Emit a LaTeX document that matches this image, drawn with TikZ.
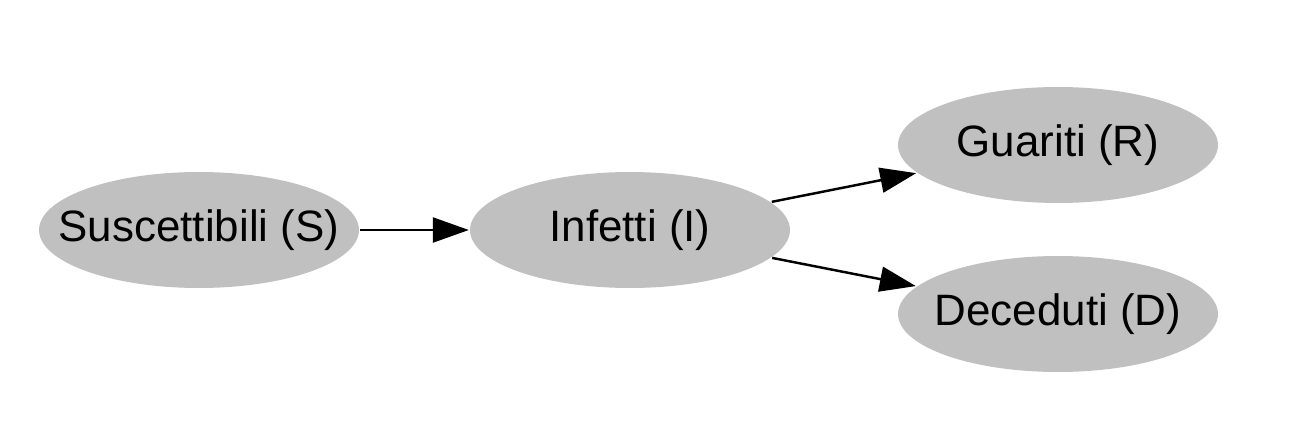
\documentclass[tikz,border=0pt]{standalone}
\usepackage{fontspec}
\setmainfont{Liberation Sans}
\usepackage{tikz}
\usetikzlibrary{arrows.meta, shapes.geometric}

\definecolor{nodegray}{RGB}{192,192,192}

\begin{document}
\begin{tikzpicture}[x=0.02cm, y=-0.02cm, ->, >={Triangle[length=0.72cm, width=0.5cm]}, line width=1.4pt,
		comp/.style={ellipse, fill=nodegray, inner xsep=-1cm, inner ysep=0pt, minimum width=6.4cm, minimum height=2.32cm, font=\fontsize{25pt}{30pt}\selectfont}]
		\useasboundingbox (0, 0) rectangle (1316, 446);
		
		\node[comp] (S) at (199, 230) {Suscettibili (S)};
		\node[comp] (I) at (630, 230) {Infetti (I)};
		\node[comp] (R) at (1058, 145) {Guariti (R)};
		\node[comp] (D) at (1058, 314) {Deceduti (D)};
		
		\path (S) edge (I)
			(I) edge (R)
			(I) edge (D);
	\end{tikzpicture}
\end{document}
